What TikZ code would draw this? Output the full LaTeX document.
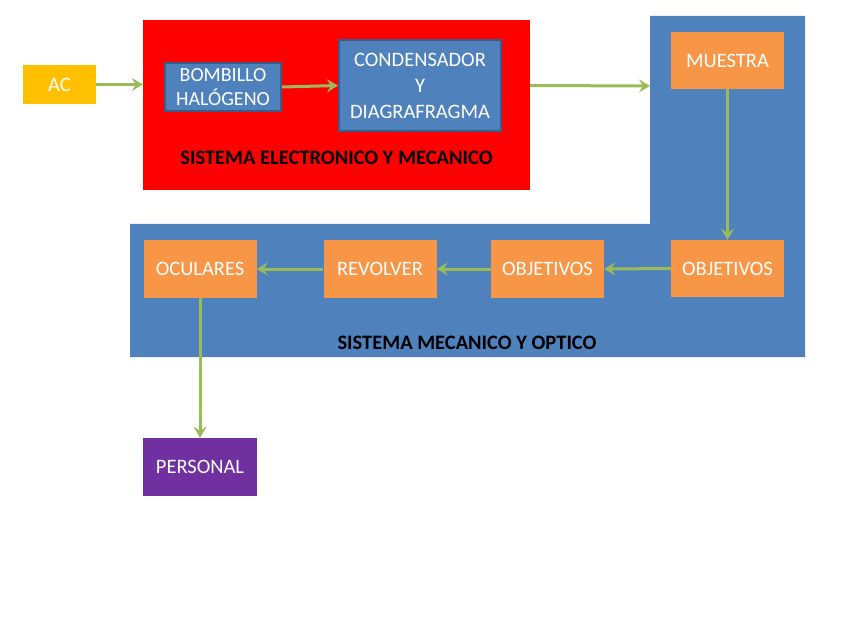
\documentclass[tikz,border=0pt]{standalone}
\usepackage{fontspec}
\setmainfont{Carlito}
\usetikzlibrary{arrows.meta}
\definecolor{acyel}{HTML}{FFC000}
\definecolor{redbg}{HTML}{FF0000}
\definecolor{bluebg}{HTML}{4F81BD}
\definecolor{blueedge}{HTML}{385D8A}
\definecolor{orangebox}{HTML}{F79646}
\definecolor{purplebox}{HTML}{7030A0}
\definecolor{arrowgreen}{HTML}{9BBB59}
\tikzset{
  boxtext/.style={text=white, font=\fontsize{20.5}{25}\selectfont, align=center, inner sep=0pt},
  bluebox/.style={boxtext, fill=bluebg, draw=blueedge, line width=2pt},
  orbox/.style={boxtext, fill=orangebox, minimum width=113pt, minimum height=57pt},
  conn/.style={draw=arrowgreen, line width=3pt, -{Stealth[length=11pt,width=13pt,inset=4pt]}},
  grouplabel/.style={font=\fontsize{20.5}{24}\selectfont\bfseries, text=black, inner sep=0pt}
}
\begin{document}
\begin{tikzpicture}[x=1pt,y=-1pt]
\useasboundingbox (0,0) rectangle (848,636);
\fill[white] (0,0) rectangle (848,636);
% red system block
\node[fill=redbg, minimum width=387pt, minimum height=170pt, inner sep=0pt] (red) at (336.5,105) {};
\node[grouplabel] (redlbl) at (336.5,158) {SISTEMA ELECTRONICO Y MECANICO};
% blue system block
\fill[bluebg] (650,16) -- (805,16) -- (805,357) -- (130,357) -- (130,224) -- (650,224) -- cycle;
\coordinate (blueL) at (650,86);
\node[grouplabel] (bluelbl) at (467,343) {SISTEMA MECANICO Y OPTICO};
% nodes
\node[boxtext, fill=acyel, minimum width=73pt, minimum height=39pt] (ac) at (59.5,84.5) {AC};
\node[bluebox, minimum width=116pt, minimum height=48pt, font=\fontsize{20}{24}\selectfont] (bomb) at (223,87) {BOMBILLO\\HALÓGENO};
\node[bluebox, minimum width=162pt, minimum height=91pt, font=\fontsize{20.5}{26}\selectfont] (cond) at (420,85.5) {CONDENSADOR\\Y\\DIAGRAFRAGMA};
\node[orbox] (muestra) at (727.5,60.5) {MUESTRA};
\node[orbox] (obja) at (727.5,268.5) {OBJETIVOS};
\node[orbox] (objb) at (547.5,269) {OBJETIVOS};
\node[orbox] (revolver) at (380,269) {REVOLVER};
\node[orbox] (oculares) at (200,269) {OCULARES};
\node[boxtext, fill=purplebox, minimum width=114pt, minimum height=58pt] (personal) at (200,467) {PERSONAL};
% connectors
\draw[conn] (ac.east) -- (red.west |- ac.east);
\draw[conn] (bomb.east) -- (cond.west);
\draw[conn] (red.east |- cond.east) -- (blueL);
\draw[conn] (muestra.south) -- (obja.north);
\draw[conn] (obja.west) -- (objb.east);
\draw[conn] (objb.west) -- (revolver.east);
\draw[conn] (revolver.west) -- (oculares.east);
\draw[conn] (oculares.south) -- (personal.north);
\end{tikzpicture}
\end{document}
